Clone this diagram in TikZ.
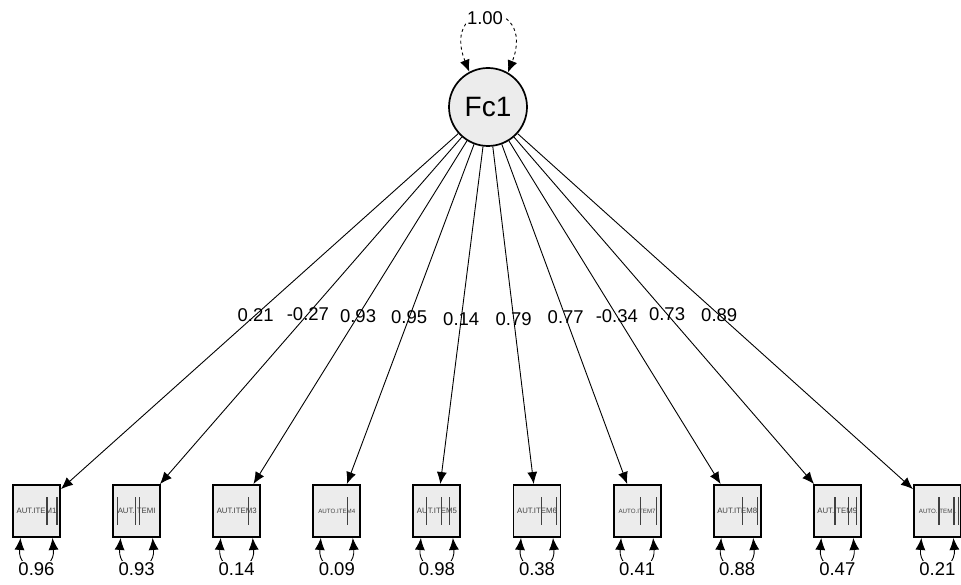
\documentclass[tikz,border=0pt]{standalone}
\usepackage{fontspec}
\setmainfont{Liberation Sans}
\usetikzlibrary{arrows.meta, positioning, calc}

\begin{document}
\begin{tikzpicture}[x=1pt, y=1pt,
  latent/.style={draw, circle, line width=1.7pt, fill=gray!15, minimum size=78pt, inner sep=0pt, font=\fontsize{28}{30}\selectfont},
  observed/.style={draw, rectangle, line width=1.9pt, fill=gray!15, minimum width=47pt, minimum height=52pt, inner sep=0pt, text=black!75},
  coef/.style={font=\fontsize{18.5}{20}\selectfont, inner sep=1pt},
  errcoef/.style={coef, fill=white, inner sep=1.5pt},
  loading/.style={-{Latex[length=12pt,width=10pt]}, line width=0.9pt},
  errloop/.style={{Latex[length=12pt,width=10pt]}-{Latex[length=12pt,width=10pt]}, line width=0.9pt},
  glitch/.style={black!75, line width=1.1pt}]
\useasboundingbox (0,0) rectangle (961,585);

\node[latent] (fc) at (488,478) {Fc1};
% variance of the factor
\draw[errloop, dashed] (fc.118) .. controls +(-30,75) and +(30,76) .. (fc.60);
\node[errcoef] (var) at (485,566.5) {1.00};

\foreach \i/\name/\sz/\ld/\er/\bars in {
  1/AUT.ITEM1/7.8/0.21/0.96/{10.5,20.5},
  2/AUT.ITEMI/7.8/-0.27/0.93/{-19.3,-0.9,2.7},
  3/AUT.ITEM3/7.8/0.93/0.14/{11.6},
  4/AUTO.ITEM4/6.2/0.95/0.09/{10.5},
  5/AUT.ITEM5/7.8/0.14/0.98/{-10.2,4.8,12.4},
  6/AUT.ITEM6/7.8/0.79/0.38/{4.7,19.8},
  7/AUTO.ITEM7/6.2/0.77/0.41/{3.6,19.6},
  8/AUT.ITEM8/7.8/-0.34/0.88/{5.1,20.5},
  9/AUT.ITEM9/7.8/0.73/0.47/{-2.3,11,19.5},
  10/AUTO.ITEM1/6.2/0.89/0.21/{1.6,16.6,20.8}}{
  \node[observed, font=\fontsize{\sz}{\sz}\selectfont] (b\i) at ({36.5+100.1*(\i-1)},74) {\name};
  \foreach \b in \bars
    \draw[glitch] ($(b\i.center)+(\b,-14)$) -- ++(0,28);
  \draw[loading] (fc) -- (b\i) node[coef, pos=0.51] {\ld};
  % error variance
  \draw[errloop] ($(b\i.south)+(-16,0)$) .. controls +(-3,-36) and +(3,-36) .. ($(b\i.south)+(16,0)$);
  \node[errcoef] (e\i) at ($(b\i.south)+(0,-31)$) {\er};
}
\end{tikzpicture}
\end{document}
